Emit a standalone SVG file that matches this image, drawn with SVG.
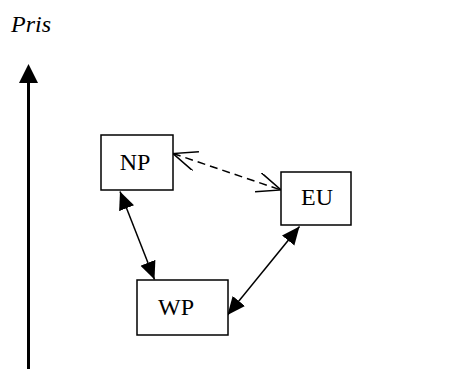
<svg xmlns="http://www.w3.org/2000/svg" width="458" height="369" viewBox="0 0 458 369">
  <style>
    .box { fill: #fff; stroke: #000; stroke-width: 1.5; }
    .lbl { font-family: "Liberation Serif", "Times New Roman", serif; font-size: 24px; fill: #000; text-anchor: middle; }
    .title { font-family: "Liberation Serif", "Times New Roman", serif; font-size: 24px; font-style: italic; fill: #000; }
    .edge { fill: none; stroke: #000; stroke-width: 1.5; }
    .dash { stroke-dasharray: 8 5; }
  </style>
  <defs>
    <marker id="solidHead" markerUnits="userSpaceOnUse" markerWidth="20" markerHeight="18" refX="18" refY="8" orient="auto-start-reverse">
      <path d="M0,0 L18,8 L0,16 Z" fill="#000"/>
    </marker>
    <marker id="openHead" markerUnits="userSpaceOnUse" markerWidth="26" markerHeight="24" refX="24" refY="10" orient="auto-start-reverse">
      <path d="M0,0 L24,10 L0,20" fill="none" stroke="#000" stroke-width="1.5"/>
    </marker>
  </defs>

  <!-- price axis -->
  <g id="axis">
    <text class="title" x="11" y="32">Pris</text>
    <line x1="28.5" y1="80" x2="28.5" y2="369" stroke="#000" stroke-width="3"/>
    <polygon points="28.5,64 19,83 38,83" fill="#000"/>
  </g>

  <g id="connectors">
    <line class="edge dash" x1="173" y1="153.5" x2="281" y2="190" marker-start="url(#openHead)" marker-end="url(#openHead)"/>
    <line class="edge" x1="120" y1="191.5" x2="154.5" y2="279.5" marker-start="url(#solidHead)" marker-end="url(#solidHead)"/>
    <line class="edge" x1="299.5" y1="226.5" x2="227.5" y2="315" marker-start="url(#solidHead)" marker-end="url(#solidHead)"/>
  </g>

  <g id="NP">
    <rect class="box" x="101" y="135" width="72" height="55"/>
    <text class="lbl" x="135" y="170">NP</text>
  </g>
  <g id="EU">
    <rect class="box" x="281" y="172" width="70" height="53"/>
    <text class="lbl" x="317" y="205">EU</text>
  </g>
  <g id="WP">
    <rect class="box" x="137" y="280" width="91" height="55"/>
    <text class="lbl" x="176" y="315">WP</text>
  </g>
</svg>
